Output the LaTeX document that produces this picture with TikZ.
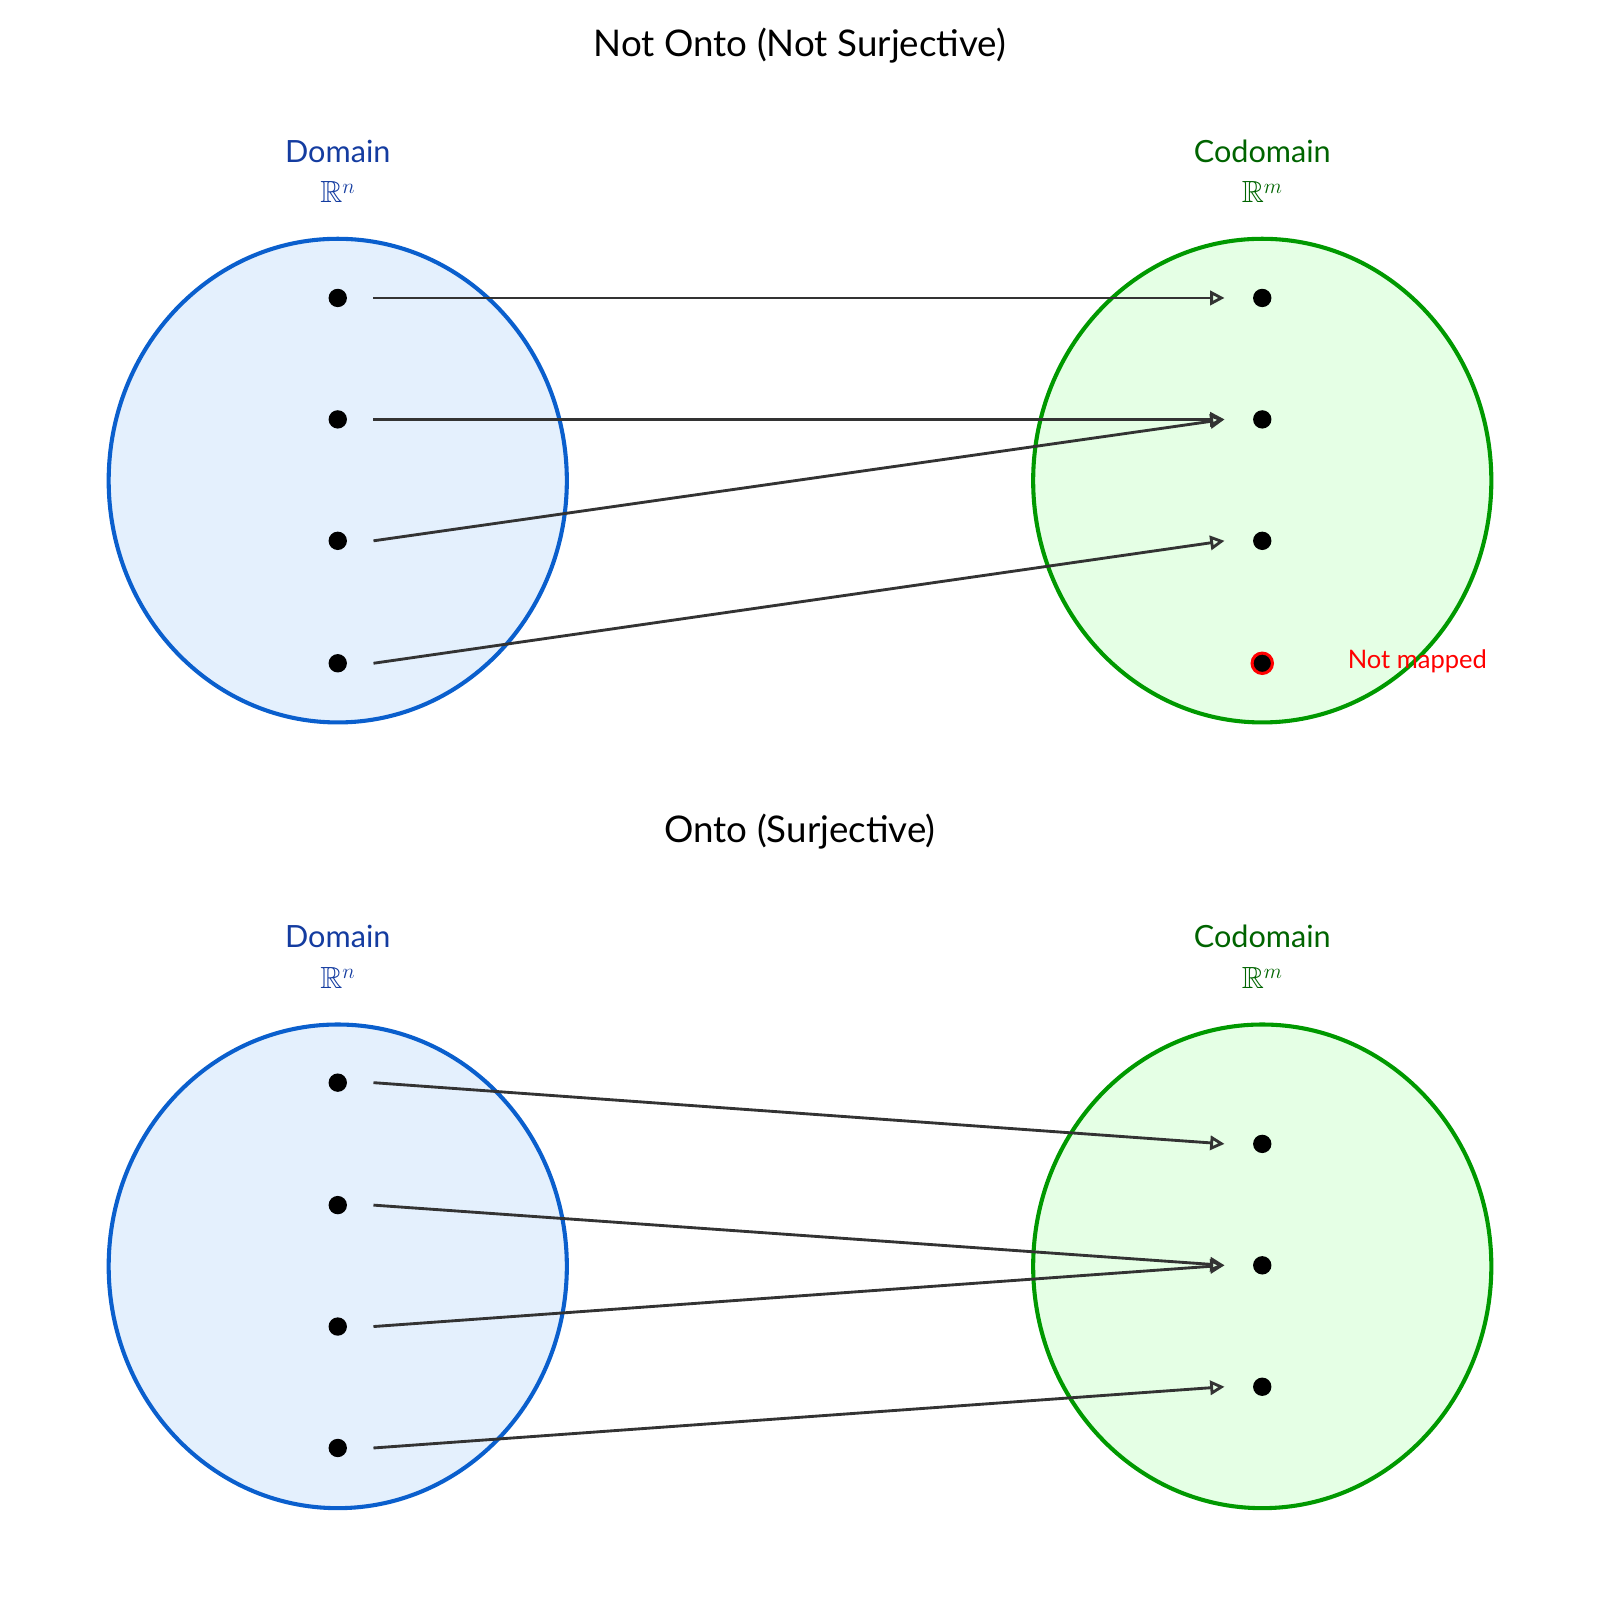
\documentclass[tikz,border=0pt]{standalone}
\usepackage{fontspec}
\setmainfont{Lato}
\usepackage{amssymb}
\usetikzlibrary{arrows.meta,shapes.geometric}
\begin{document}
\begin{tikzpicture}[x=1pt,y=-1pt,
 dom/.style={ellipse,draw=dcirc,fill=lblue,line width=4pt,minimum width=449pt,minimum height=474pt,inner sep=0},
 cod/.style={ellipse,draw=green!60!black,fill=green!10!white,line width=4pt,minimum width=449pt,minimum height=474pt,inner sep=0},
 dot/.style={circle,fill=black,minimum size=18pt,inner sep=0},
 arr/.style={-{Stealth[open,length=14pt,width=14pt,inset=0pt]},line width=2.8pt,draw=black!80},
 ttl/.style={font=\fontsize{36}{40}\selectfont},
 lab/.style={font=\fontsize{30}{34}\selectfont,align=center}]
\definecolor{dblue}{RGB}{20,60,160}\definecolor{dgreen}{RGB}{0,100,0}
\definecolor{dcirc}{RGB}{10,95,205}\definecolor{lblue}{RGB}{228,240,253}
\useasboundingbox (0,0) rectangle (1568,1568);
\node[ttl] (t1) at (784,45) {Not Onto (Not Surjective)};
\node[ttl] (t2) at (784,815) {Onto (Surjective)};
\foreach \yy/\s in {0/a,770/b}{
 \node[dom] (D\s) at (331,471+\yy) {};
 \node[cod] (C\s) at (1237,471+\yy) {};
 \node[lab,text=dblue] (Dl\s) at (331,148+\yy) {Domain};
 \node[lab,text=dblue] (Dr\s) at (331,188+\yy) {$\mathbb{R}^n$};
 \node[lab,text=dgreen] (Cl\s) at (1237,148+\yy) {Codomain};
 \node[lab,text=dgreen] (Cr\s) at (1237,188+\yy) {$\mathbb{R}^m$};
}
\foreach \i/\y in {1/292,2/411,3/530,4/650}{\node[dot] (a\i) at (331,\y) {};}
\foreach \i/\y in {1/292,2/411,3/530}{\node[dot] (c\i) at (1237,\y) {};}
\node[dot,draw=red,line width=3pt,minimum size=20pt] (c4) at (1237,650) {};
\node[text=red,font=\fontsize{25}{28}\selectfont] (nm) at (1389,648) {Not mapped};
\foreach \i/\y in {1/1061,2/1181,3/1300,4/1419}{\node[dot] (b\i) at (331,\y) {};}
\foreach \i/\y in {1/1121,2/1240,3/1359}{\node[dot] (d\i) at (1237,\y) {};}
\foreach \s/\t in {1/1,2/2,3/2,4/3}{
 \draw[arr] ([xshift=35pt]a\s.center) -- ([xshift=-37pt]c\t.center);
 \draw[arr] ([xshift=35pt]b\s.center) -- ([xshift=-37pt]d\t.center);
}
\end{tikzpicture}
\end{document}
